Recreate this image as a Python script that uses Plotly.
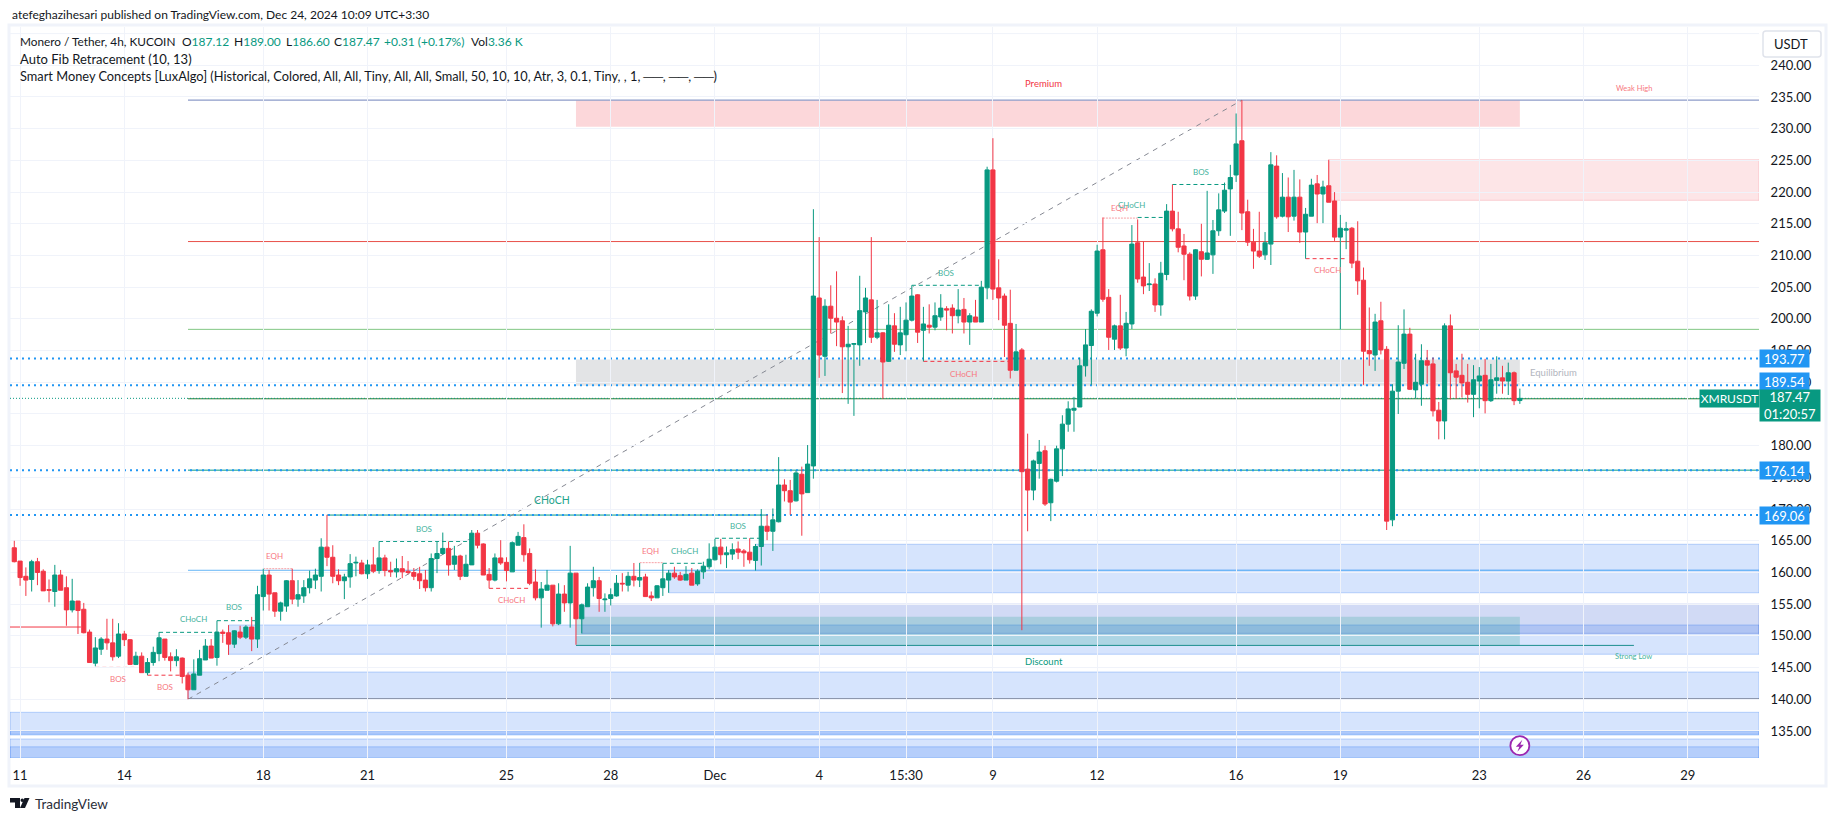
"""XMR/USDT 4h chart with Smart Money Concepts overlays, TradingView look."""

import plotly.graph_objects as go

FONT = "Lato"
UP = "#089981"
DOWN = "#f23645"
BLUE = "#2196f3"
TEXT = "#131722"
GRID = "#f0f3fa"

PLOT_L, PLOT_R, PLOT_T, PLOT_B = 10, 1759, 27, 758
X_MIN, X_MAX = -0.74, 301.3
Y_MIN, Y_MAX = 130.74, 246.04

opens = [
    163.9, 161.8, 159.4, 158.9, 161.7, 160.2, 157.3, 157.0, 159.6, 157.6,
    154.1, 155.5, 154.2, 150.6, 145.7, 147.9, 149.5, 148.9, 146.8, 150.3,
    149.4, 145.5, 146.8, 144.2, 145.8, 147.2, 149.5, 146.7, 146.1, 146.5,
    143.8, 141.5, 143.8, 146.2, 148.4, 146.6, 150.6, 150.5, 148.7, 150.6,
    149.8, 151.4, 149.5, 156.2, 159.6, 156.8, 153.9, 154.7, 158.7, 155.8,
    156.3, 157.6, 158.8, 159.4, 164.0, 162.4, 159.6, 158.7, 159.3, 161.5,
    161.5, 159.8, 161.2, 160.3, 162.3, 160.3, 160.1, 160.6, 160.2, 160.0,
    159.8, 158.8, 157.6, 162.2, 163.0, 163.8, 161.3, 162.6, 159.4, 161.2,
    166.2, 164.5, 159.7, 158.8, 162.3, 161.6, 160.1, 164.3, 165.5, 163.0,
    158.5, 156.0, 157.2, 158.0, 151.9, 156.6, 155.2, 159.9, 152.7, 154.6,
    157.6, 158.7, 155.7, 155.9, 156.3, 158.3, 158.0, 159.4, 158.8, 159.3,
    156.3, 156.0, 157.6, 158.8, 159.9, 159.5, 158.8, 159.9, 158.2, 160.1,
    160.9, 162.0, 164.0, 162.8, 162.9, 163.7, 163.4, 163.2, 161.9, 164.1,
    167.3, 166.5, 168.0, 173.8, 172.9, 171.3, 175.5, 172.6, 176.8, 203.3,
    194.1, 202.0, 200.1, 199.7, 195.6, 196.0, 195.9, 201.1, 203.0, 197.1,
    197.8, 193.3, 198.9, 195.9, 197.5, 199.8, 203.8, 198.2, 199.0, 198.7,
    200.3, 201.6, 201.7, 200.5, 201.5, 199.5, 200.3, 199.5, 204.9, 223.5,
    204.9, 203.6, 199.3, 191.9, 195.1, 176.3, 173.0, 177.2, 179.2, 171.0,
    174.4, 179.5, 183.4, 185.6, 186.1, 192.6, 195.8, 200.9, 210.9, 203.4,
    196.8, 198.9, 195.4, 199.2, 212.0, 206.6, 205.4, 205.5, 202.2, 207.0,
    217.0, 214.2, 211.5, 210.2, 203.6, 210.6, 209.4, 210.1, 213.9, 217.0,
    220.5, 222.7, 228.1, 216.9, 212.1, 210.7, 210.1, 211.8, 224.1, 216.2,
    219.2, 216.2, 219.2, 213.7, 216.2, 221.3, 219.7, 221.0, 218.6, 212.9,
    214.0, 214.3, 209.1, 206.1, 195.0, 194.3, 199.7, 195.2, 168.3, 188.6,
    193.0, 197.6, 188.8, 189.7, 193.4, 192.9, 185.6, 183.9, 198.9, 191.8,
    191.1, 190.0, 188.1, 190.2, 191.1, 187.1, 190.3, 190.7, 190.2, 191.5,
    187.12,
]
highs = [
    165.0, 161.8, 160.8, 162.0, 162.3, 160.5, 158.9, 161.2, 160.4, 159.4,
    159.0, 155.5, 155.2, 151.0, 149.8, 149.8, 152.7, 152.7, 152.0, 150.8,
    149.5, 147.5, 147.4, 146.5, 148.3, 150.6, 149.5, 147.4, 147.9, 146.6,
    144.2, 146.3, 147.8, 149.5, 149.5, 152.4, 151.0, 151.7, 150.9, 151.6,
    151.7, 153.0, 157.9, 160.6, 160.4, 156.8, 155.4, 158.8, 160.6, 158.8,
    158.8, 160.3, 160.6, 165.4, 169.1, 164.3, 160.5, 159.8, 162.9, 162.5,
    162.0, 162.0, 164.0, 164.9, 162.8, 161.7, 162.2, 162.6, 161.8, 160.7,
    160.9, 160.4, 163.0, 164.9, 166.3, 164.9, 164.2, 162.8, 162.8, 166.7,
    166.7, 164.6, 160.7, 163.0, 165.1, 162.4, 164.9, 166.4, 167.6, 163.8,
    160.5, 158.5, 160.4, 158.0, 158.3, 158.0, 164.2, 159.9, 155.1, 158.3,
    160.9, 159.3, 156.7, 157.5, 159.6, 159.9, 160.1, 161.5, 161.5, 159.8,
    157.0, 158.0, 161.4, 160.4, 160.9, 160.1, 161.0, 160.7, 160.5, 161.7,
    164.6, 165.3, 165.3, 164.1, 164.6, 164.9, 163.7, 165.4, 164.5, 170.0,
    169.1, 170.1, 178.2, 174.7, 174.6, 176.1, 176.7, 180.1, 217.3, 212.9,
    203.1, 205.3, 207.5, 200.4, 198.9, 196.1, 206.8, 204.9, 212.9, 203.0,
    197.9, 202.3, 200.9, 201.9, 202.6, 205.3, 203.9, 201.9, 202.3, 202.6,
    203.9, 202.0, 202.3, 204.7, 203.3, 200.9, 203.0, 206.0, 224.0, 228.5,
    209.4, 204.0, 204.6, 199.2, 195.4, 181.9, 177.8, 180.9, 180.0, 174.8,
    180.0, 184.8, 187.0, 187.7, 193.9, 198.4, 201.5, 211.7, 216.0, 204.7,
    199.1, 203.8, 201.1, 214.8, 215.7, 212.2, 208.8, 206.4, 209.0, 218.1,
    221.2, 216.9, 213.4, 210.5, 211.0, 215.0, 220.2, 215.6, 219.8, 221.5,
    224.3, 232.4, 234.5, 218.8, 214.2, 216.9, 213.7, 226.3, 225.8, 223.0,
    222.3, 223.5, 222.0, 217.5, 222.1, 222.7, 221.8, 225.1, 220.0, 216.4,
    215.3, 214.5, 215.4, 208.1, 201.8, 200.8, 202.7, 195.7, 189.7, 199.0,
    201.5, 198.6, 194.5, 196.0, 195.1, 193.9, 186.9, 199.3, 200.7, 192.9,
    194.5, 192.9, 192.7, 192.4, 193.7, 192.9, 194.1, 192.6, 193.1, 191.7,
    189.0,
]
lows = [
    161.6, 157.9, 156.3, 157.0, 158.0, 157.1, 155.3, 154.6, 157.2, 151.6,
    153.7, 150.3, 150.4, 145.8, 145.2, 147.0, 147.8, 146.1, 146.5, 148.4,
    145.4, 145.4, 144.2, 143.8, 145.3, 146.0, 146.1, 144.4, 145.2, 142.5,
    140.0, 141.5, 143.8, 146.2, 146.5, 145.3, 148.9, 147.0, 148.1, 149.5,
    149.5, 147.6, 148.1, 154.0, 154.0, 153.0, 152.4, 153.8, 155.0, 154.6,
    155.2, 156.7, 157.4, 157.0, 161.0, 158.3, 158.0, 155.8, 157.6, 159.4,
    159.7, 159.0, 159.9, 159.8, 159.4, 159.3, 159.2, 159.1, 159.7, 158.8,
    157.4, 157.0, 157.0, 159.9, 162.8, 159.5, 160.4, 158.8, 159.4, 161.2,
    163.8, 159.6, 157.5, 158.6, 161.2, 158.6, 160.1, 164.3, 161.7, 158.0,
    155.6, 151.3, 157.2, 151.5, 151.7, 153.8, 151.3, 148.6, 150.4, 154.6,
    156.2, 153.8, 153.8, 154.8, 156.2, 157.0, 157.0, 157.8, 157.7, 156.2,
    155.5, 156.0, 156.3, 156.8, 159.0, 158.7, 158.8, 158.0, 157.9, 159.0,
    160.5, 161.9, 161.3, 160.7, 162.0, 162.1, 160.9, 161.4, 160.3, 161.1,
    165.1, 163.4, 167.9, 171.2, 169.1, 171.2, 165.8, 172.6, 174.8, 190.7,
    191.0, 197.7, 195.7, 188.3, 186.6, 184.7, 192.6, 196.2, 196.2, 196.8,
    187.4, 193.2, 194.8, 194.3, 194.9, 199.6, 196.2, 193.3, 197.7, 198.2,
    199.7, 198.2, 197.7, 199.3, 197.7, 195.9, 199.5, 199.5, 203.1, 203.0,
    199.8, 194.0, 190.6, 191.9, 150.9, 166.5, 171.4, 174.8, 170.5, 168.1,
    174.2, 175.2, 182.2, 182.2, 186.1, 190.9, 189.6, 200.4, 202.7, 195.1,
    195.1, 195.1, 194.1, 198.4, 205.7, 203.9, 204.4, 201.1, 200.5, 206.1,
    213.8, 210.5, 206.1, 202.9, 203.0, 206.7, 209.3, 207.1, 213.1, 216.7,
    213.1, 221.6, 214.0, 211.5, 207.9, 209.6, 209.3, 208.5, 215.8, 216.0,
    213.7, 215.5, 212.0, 209.5, 216.2, 215.1, 215.1, 218.4, 212.3, 198.3,
    211.0, 208.0, 203.8, 189.6, 192.6, 191.8, 194.4, 166.7, 167.3, 185.0,
    192.1, 188.8, 187.5, 186.3, 189.8, 184.6, 181.0, 181.0, 187.3, 187.4,
    187.6, 186.8, 184.5, 185.9, 185.1, 186.9, 188.2, 188.2, 188.0, 186.4,
    186.6,
]
closes = [
    161.7, 159.2, 158.8, 161.7, 160.0, 157.1, 157.2, 159.6, 157.2, 154.1,
    155.5, 154.0, 150.5, 145.8, 148.1, 149.5, 148.9, 146.7, 150.3, 149.4,
    145.5, 146.8, 144.2, 145.8, 147.4, 149.7, 146.6, 146.1, 146.7, 143.6,
    141.5, 144.0, 146.4, 148.4, 146.5, 150.6, 150.4, 148.7, 150.8, 149.8,
    151.4, 149.5, 156.5, 159.6, 156.6, 153.9, 155.2, 158.7, 155.8, 156.5,
    157.6, 159.0, 159.6, 164.0, 162.4, 159.4, 158.7, 159.3, 161.4, 161.6,
    159.8, 161.2, 160.2, 162.3, 160.3, 160.1, 160.6, 160.1, 160.0, 159.4,
    158.7, 157.6, 162.2, 163.0, 163.8, 161.2, 162.6, 159.4, 161.3, 166.2,
    164.3, 159.6, 158.8, 162.3, 161.5, 160.3, 164.7, 165.7, 162.8, 158.3,
    156.0, 157.4, 158.0, 151.9, 156.6, 155.2, 159.9, 152.7, 154.9, 157.7,
    158.7, 155.9, 155.8, 156.5, 158.3, 158.2, 159.4, 158.8, 159.2, 156.2,
    156.0, 157.9, 159.0, 159.9, 159.3, 158.8, 159.7, 158.0, 160.2, 161.0,
    162.1, 164.0, 162.8, 163.1, 163.6, 163.2, 163.1, 162.0, 164.1, 167.3,
    166.5, 168.3, 173.8, 172.9, 171.1, 175.7, 172.4, 177.1, 203.6, 194.3,
    202.0, 200.1, 199.5, 195.6, 196.0, 196.1, 201.3, 203.3, 197.1, 197.8,
    193.2, 199.0, 196.0, 197.8, 199.8, 203.6, 197.9, 199.2, 198.7, 200.5,
    201.7, 201.4, 200.5, 201.4, 199.5, 200.5, 199.5, 205.0, 223.5, 204.7,
    203.3, 199.0, 191.9, 194.8, 175.9, 173.0, 177.6, 179.0, 170.8, 174.7,
    179.5, 183.4, 185.8, 185.9, 192.6, 195.9, 201.2, 210.7, 203.1, 197.1,
    198.9, 195.4, 199.3, 211.8, 206.3, 205.2, 205.5, 202.2, 207.2, 217.0,
    214.2, 211.3, 210.2, 203.6, 210.9, 209.4, 210.4, 213.9, 217.2, 220.3,
    222.3, 227.6, 216.7, 212.1, 210.7, 209.9, 212.0, 224.3, 216.1, 219.2,
    216.1, 219.2, 213.7, 216.5, 221.1, 219.7, 220.8, 218.4, 212.9, 214.3,
    214.2, 208.8, 206.0, 194.9, 194.5, 199.5, 195.1, 168.1, 188.6, 193.2,
    197.6, 188.9, 190.0, 193.4, 192.7, 185.5, 183.9, 198.9, 191.5, 190.8,
    189.9, 188.1, 190.4, 191.0, 187.1, 190.4, 190.7, 190.2, 191.5, 187.1,
    187.47,
]
bars = list(range(len(opens)))

tick_bars = [1, 19, 43, 61, 85, 103, 121, 139, 154, 169, 187, 211, 229, 253, 271, 289]
tick_labels = ["11", "14", "18", "21", "25", "28", "Dec", "4", "15:30", "9", "12", "16", "19", "23", "26", "29"]
price_ticks = [135, 140, 145, 150, 155, 160, 165, 170, 175, 180, 185, 190, 195, 200, 205,
               210, 215, 220, 225, 230, 235, 240]

# start bar, end bar, top price, bottom price, fill, border
zones = [
    (X_MIN, X_MAX, 137.95, 134.5, "rgba(49,121,245,0.2)", "rgba(49,121,245,0.3)"),
    (X_MIN, X_MAX, 134.9, 134.37, "rgba(49,121,245,0.2)", "rgba(49,121,245,0.3)"),
    (X_MIN, X_MAX, 133.74, 130.7, "rgba(49,121,245,0.2)", "rgba(49,121,245,0.3)"),
    (X_MIN, X_MAX, 132.5, 130.7, "rgba(49,121,245,0.2)", "rgba(49,121,245,0.3)"),
    (30, X_MAX, 144.3, 140.0, "rgba(49,121,245,0.2)", "rgba(49,121,245,0.3)"),
    (37, X_MAX, 151.72, 147.1, "rgba(49,121,245,0.2)", "rgba(49,121,245,0.3)"),
    (98, X_MAX, 155.0, 150.4, "rgba(24,72,204,0.2)", "rgba(24,72,204,0.3)"),
    (113, X_MAX, 160.35, 156.8, "rgba(49,121,245,0.2)", "rgba(49,121,245,0.3)"),
    (128, X_MAX, 164.45, 160.35, "rgba(49,121,245,0.2)", "rgba(49,121,245,0.3)"),
    (97, 260, 153.03, 148.5, "rgba(8,153,129,0.2)", "rgba(0,0,0,0)"),
    (97, 260, 234.5, 230.3, "rgba(242,54,69,0.2)", "rgba(0,0,0,0)"),
    (97, 260, 193.6, 189.45, "rgba(135,139,148,0.23)", "rgba(0,0,0,0)"),
    (227, X_MAX, 225.1, 218.7, "rgba(242,54,69,0.13)", "rgba(242,54,69,0.2)"),
]

# start bar, end bar, price, colour, width, dash
levels = [
    (X_MIN, X_MAX, 245, GRID, 1, "solid"),
    (30, X_MAX, 234.5, "#8c9bc9", 1.3, "solid"),
    (30, X_MAX, 212.2, "#e8504a", 1, "solid"),
    (30, X_MAX, 198.35, "#81c784", 1, "solid"),
    (30, X_MAX, 160.35, "#64b5f6", 1, "solid"),
    (30, X_MAX, 140.0, "#50535e", 1.6, "solid"),
    (30, X_MAX, 187.4, "#2e7d32", 1, "solid"),
    (30, X_MAX, 176.14, UP, 1, "solid"),
    (54, 130, 169.06, UP, 1, "solid"),
    (97, 279.7, 148.5, "#1b8e8e", 1, "solid"),
    (X_MIN, 11.5, 151.4, DOWN, 1, "solid"),
    (X_MIN, X_MAX, 187.47, UP, 1, "1px,2px"),
    (X_MIN, X_MAX, 193.77, BLUE, 2, "2px,4px"),
    (X_MIN, X_MAX, 189.54, BLUE, 2, "2px,4px"),
    (X_MIN, X_MAX, 176.14, BLUE, 2, "2px,4px"),
    (X_MIN, X_MAX, 169.06, BLUE, 2, "2px,4px"),
]

# start bar, end bar, price, colour, dash for the BOS / CHoCH / EQH breaks
breaks = [
    (25, 35, 150.56, UP, "4px,3px"),
    (35, 42, 152.4, UP, "4px,3px"),
    (14, 21, 145.03, DOWN, "4px,3px"),
    (23, 29, 143.8, DOWN, "4px,3px"),
    (43, 48, 160.6, "#f7a0a5", "2px,1px"),
    (63, 79, 164.9, UP, "4px,3px"),
    (82, 89, 157.5, DOWN, "4px,3px"),
    (108, 112, 161.55, "#f7a0a5", "2px,1px"),
    (112, 119, 161.45, UP, "4px,3px"),
    (121, 129, 165.4, UP, "4px,3px"),
    (155, 167, 205.3, UP, "4px,3px"),
    (157, 172, 193.3, DOWN, "4px,3px"),
    (188, 194, 215.9, "#f7a0a5", "2px,1px"),
    (194, 199, 216.0, UP, "4px,3px"),
    (200, 210, 221.2, UP, "4px,3px"),
    (223, 230, 209.5, DOWN, "4px,3px"),
]

SOFT_RED = "#f7787f"
SOFT_GREEN = "#46b39e"
# text, bar, price, colour, size
marks = [
    ("CHoCH", 30.9, 152.6, SOFT_GREEN, 8),
    ("BOS", 37.9, 154.5, SOFT_GREEN, 8),
    ("BOS", 17.9, 143.15, SOFT_RED, 8),
    ("BOS", 26.0, 141.9, SOFT_RED, 8),
    ("EQH", 44.9, 162.55, SOFT_RED, 8),
    ("BOS", 70.8, 166.8, SOFT_GREEN, 8),
    ("CHoCH", 92.9, 171.4, "#22a38c", 10.5),
    ("CHoCH", 85.8, 155.6, SOFT_RED, 8),
    ("EQH", 109.8, 163.45, SOFT_RED, 8),
    ("CHoCH", 115.8, 163.45, SOFT_GREEN, 8),
    ("BOS", 124.9, 167.4, SOFT_GREEN, 8),
    ("BOS", 160.9, 207.2, SOFT_GREEN, 8),
    ("CHoCH", 163.9, 191.35, SOFT_RED, 8),
    ("EQH", 190.8, 217.5, SOFT_RED, 8),
    ("CHoCH", 192.9, 217.9, SOFT_GREEN, 8),
    ("BOS", 204.9, 223.2, SOFT_GREEN, 8),
    ("CHoCH", 226.8, 207.7, SOFT_RED, 8),
    ("Premium", 177.8, 237.1, DOWN, 9.5),
    ("Discount", 177.8, 146.0, UP, 9.5),
    ("Equilibrium", 265.8, 191.5, "#b2b5be", 9.5),
    ("Weak High", 279.7, 236.4, SOFT_RED, 7.5),
    ("Strong Low", 279.7, 146.7, SOFT_GREEN, 7.5),
]

price_labels = ["193.77", "189.54", "176.14", "169.06"]
price_label_rows = [358.5, 381.7, 470.5, 515.5]


def px(x):
    return (x - PLOT_L) / (PLOT_R - PLOT_L)


def py(y):
    return (PLOT_B - y) / (PLOT_B - PLOT_T)


def poly(points):
    return "M " + " L ".join(f"{px(x)} {py(y)}" for x, y in points) + " Z"


def page_text(fig, text, x, y, size=13, color=TEXT, anchor="left", **kw):
    fig.add_annotation(
        text=text, xref="paper", yref="paper", x=px(x), y=py(y),
        xanchor=anchor, yanchor="middle", showarrow=False, align=anchor,
        font=dict(family=FONT, size=size, color=color), **kw,
    )


fig = go.Figure()

fig.add_trace(go.Candlestick(
    x=bars, open=opens, high=highs, low=lows, close=closes,
    increasing=dict(line=dict(color=UP, width=1), fillcolor=UP),
    decreasing=dict(line=dict(color=DOWN, width=1), fillcolor=DOWN),
    showlegend=False,
))

for x0, x1, top, bottom, fill, border in zones:
    fig.add_shape(type="rect", x0=x0, x1=x1, y0=bottom, y1=top, fillcolor=fill,
                  line=dict(color=border, width=1), layer="below")

for x0, x1, level, color, width, dash in levels:
    fig.add_shape(type="line", x0=x0, x1=x1, y0=level, y1=level,
                  line=dict(color=color, width=width, dash=dash), layer="below")

for x0, x1, level, color, dash in breaks:
    fig.add_shape(type="line", x0=x0, x1=x1, y0=level, y1=level,
                  line=dict(color=color, width=1, dash=dash), layer="below")

# Fib trend line, swing low to swing high
fig.add_shape(type="line", x0=30, x1=212, y0=140.0, y1=234.5,
              line=dict(color="#868993", width=1, dash="5px,5px"), layer="below")

for text, bar, price, color, size in marks:
    fig.add_annotation(text=text, x=bar, y=price, showarrow=False,
                       font=dict(family=FONT, size=size, color=color))

# Frame around the chart
fig.add_shape(type="rect", xref="paper", yref="paper", x0=px(9), x1=px(1826), y0=py(786), y1=py(25),
              line=dict(color=GRID, width=3), layer="below")

# Currency button, covers the top tick label
fig.add_shape(type="path", xref="paper", yref="paper", layer="above",
              path=f"M {px(1766)} {py(31)} L {px(1818)} {py(31)} Q {px(1821)} {py(31)} {px(1821)} {py(34)} "
                   f"L {px(1821)} {py(54)} Q {px(1821)} {py(57)} {px(1818)} {py(57)} L {px(1766)} {py(57)} "
                   f"Q {px(1763)} {py(57)} {px(1763)} {py(54)} L {px(1763)} {py(34)} Q {px(1763)} {py(31)} {px(1766)} {py(31)} Z",
              fillcolor="white", line=dict(color="#e0e3eb", width=1.5))
page_text(fig, "USDT", 1772, 44.5, size=13)

# Lightning badge on the last bar
fig.add_shape(type="circle", xsizemode="pixel", ysizemode="pixel", xanchor=260, yanchor=132.68,
              x0=-9.5, x1=9.5, y0=-9.5, y1=9.5, fillcolor="white",
              line=dict(color="#9c27b0", width=1.8), layer="above")
fig.add_shape(type="path", xsizemode="pixel", ysizemode="pixel", xanchor=260, yanchor=132.68,
              path="M 2.5 6 L -4 -1 L -0.5 -1 L -2.5 -6 L 4 1 L 0.5 1 Z",
              fillcolor="#9c27b0", line=dict(width=0), layer="above")

# TradingView mark
fig.add_shape(type="path", xref="paper", yref="paper", layer="above", fillcolor="#131722", line=dict(width=0),
              path=poly([(10, 798), (20, 798), (20, 808), (15, 808), (15, 802.5), (10, 802.5)]))
fig.add_shape(type="circle", xref="paper", yref="paper", layer="above", fillcolor="#131722", line=dict(width=0),
              x0=px(20.5), x1=px(24), y0=py(802), y1=py(798.5))
fig.add_shape(type="path", xref="paper", yref="paper", layer="above", fillcolor="#131722", line=dict(width=0),
              path=poly([(24.5, 798), (29.5, 798), (25, 808), (20, 808)]))
page_text(fig, "TradingView", 33, 803.5, size=13.5, color="#2a2e39")

page_text(fig, "atefeghazihesari published on TradingView.com, Dec 24, 2024 10:09 UTC+3:30", 9.5, 15, size=12)
page_text(fig, "Monero / Tether, 4h, KUCOIN", 18, 42, size=11.8)
page_text(fig, f"O<span style='color:{UP}'>187.12</span>", 180, 42, size=12)
page_text(fig, f"H<span style='color:{UP}'>189.00</span>", 232, 42, size=12)
page_text(fig, f"L<span style='color:{UP}'>186.60</span>", 284, 42, size=12)
page_text(fig, f"C<span style='color:{UP}'>187.47</span>", 332, 42, size=12)
page_text(fig, "+0.31 (+0.17%)", 382, 42, size=12, color=UP)
page_text(fig, f"Vol<span style='color:{UP}'>3.36 K</span>", 469, 42, size=12)
page_text(fig, "Auto Fib Retracement (10, 13)", 18, 59, size=13)
page_text(fig, "Smart Money Concepts [LuxAlgo] (Historical, Colored, All, All, Tiny, All, All, Small, 50, 10, 10, "
               "Atr, 3, 0.1, Tiny, , 1, ──, ──, ──)", 18, 76, size=12.8)

for label, row in zip(price_labels, price_label_rows):
    page_text(fig, label, 1784.5, row, color="white", anchor="center", bgcolor=BLUE,
              width=49, height=17, borderpad=0)
page_text(fig, "XMRUSDT", 1729.5, 398.5, size=12, color="white", anchor="center", bgcolor=UP,
          width=59, height=17, borderpad=0)
page_text(fig, "187.47<br>01:20:57", 1790, 405.5, color="white", anchor="center", bgcolor=UP,
          width=60, height=31, borderpad=0)

fig.update_layout(
    width=1835, height=821, autosize=False, paper_bgcolor="white", plot_bgcolor="white",
    margin=dict(l=PLOT_L, r=1835 - PLOT_R, t=PLOT_T, b=821 - PLOT_B, autoexpand=False),
    boxgap=0.1, boxgroupgap=0.2, showlegend=False,
    font=dict(family=FONT, size=13, color=TEXT),
    xaxis=dict(
        range=[X_MIN, X_MAX], rangeslider_visible=False, tickmode="array",
        tickvals=tick_bars, ticktext=tick_labels, showgrid=True, gridcolor=GRID, gridwidth=1,
        zeroline=False, showline=False, ticks="outside", ticklen=5, tickcolor="white",
    ),
    yaxis=dict(
        range=[Y_MIN, Y_MAX], side="right", tickmode="array", tickvals=price_ticks, tickformat=".2f",
        showgrid=True, gridcolor=GRID, gridwidth=1, zeroline=False, showline=False,
        ticks="outside", ticklen=8, tickcolor="white",
    ),
)

fig.write_html("out.html", config=dict(displayModeBar=False),
               post_script="document.body.style.margin='0';document.body.style.overflow='hidden';")
